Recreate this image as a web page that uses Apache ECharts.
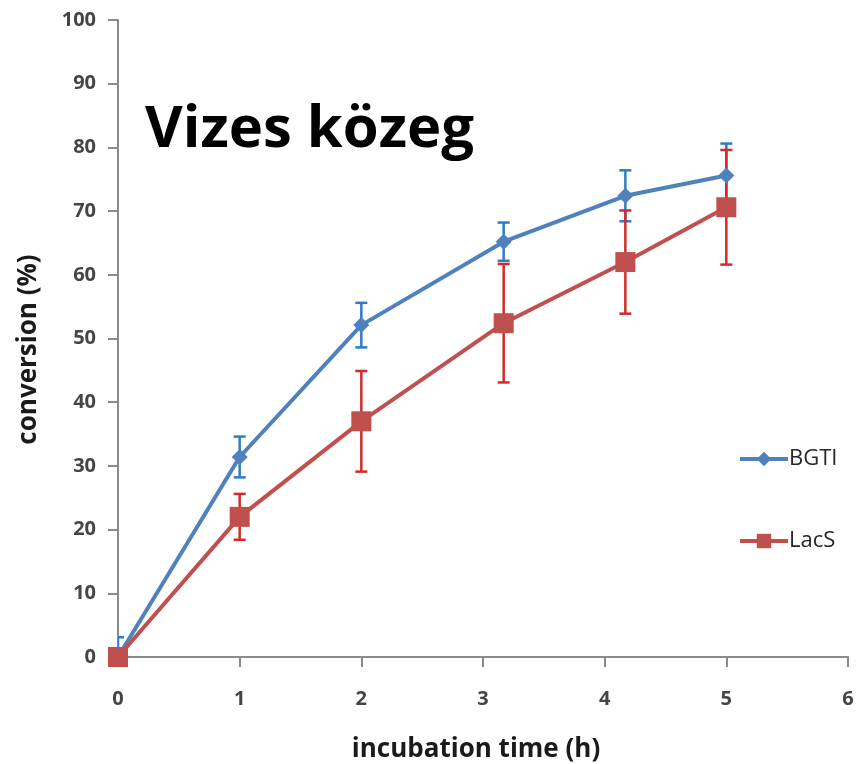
<!DOCTYPE html>
<html>
<head>
<meta charset="UTF-8">
<title>Vizes közeg</title>
<script src="https://cdn.jsdelivr.net/npm/echarts@6/dist/echarts.min.js"></script>
<style>
  html, body { margin: 0; padding: 0; background: #fff; }
  #chart { width: 856px; height: 764px; }
</style>
</head>
<body>
<div id="chart"></div>
<script>
// time points (h)
var timeBGTI = [0, 1, 2, 3.17, 4.17, 5];
var timeLacS = [0, 1, 2, 3.17, 4.17, 5];
// conversion (%)
var convBGTI = [0, 31.4, 52.1, 65.2, 72.4, 75.6];
var errBGTI  = [3.1, 3.2, 3.5, 3.0, 4.0, 5.0];
var convLacS = [0, 22.0, 37.0, 52.4, 62.0, 70.6];
var errLacS  = [0, 3.6, 7.9, 9.3, 8.1, 9.0];

var blue = '#4F81BD', blueErr = '#2C7CC8';
var red = '#C0504D', redErr = '#D42A2A';

function pairs(xs, ys) {
  return xs.map(function (x, i) { return [x, ys[i]]; });
}
function bars(xs, ys, es) {
  return xs.map(function (x, i) { return [x, ys[i] - es[i], ys[i] + es[i]]; });
}

function errRender(color) {
  return function (params, api) {
    var lo = api.coord([api.value(0), api.value(1)]);
    var hi = api.coord([api.value(0), api.value(2)]);
    var w = 6;
    var st = { stroke: color, lineWidth: 2.5 };
    return {
      type: 'group',
      children: [
        { type: 'line', shape: { x1: lo[0], y1: lo[1], x2: hi[0], y2: hi[1] }, style: st },
        { type: 'line', shape: { x1: lo[0] - w, y1: lo[1], x2: lo[0] + w, y2: lo[1] }, style: st },
        { type: 'line', shape: { x1: hi[0] - w, y1: hi[1], x2: hi[0] + w, y2: hi[1] }, style: st }
      ]
    };
  };
}

var chart = echarts.init(document.getElementById('chart'));
var labelFont = { fontFamily: 'Open Sans', fontSize: 20, fontWeight: 'bold', color: '#454545' };
var nameFont = { fontFamily: 'Open Sans', fontWeight: 'bold', fontSize: 26, color: '#1a1a1a' };

chart.setOption({
  animation: false,
  title: {
    text: 'Vizes közeg',
    left: 140, top: 96,
    textStyle: { fontFamily: 'Open Sans', fontWeight: 'bold', fontSize: 58, color: '#000' }
  },
  legend: {
    orient: 'vertical',
    left: 733, top: 443,
    itemGap: 60,
    itemWidth: 48, itemHeight: 18,
    data: ['BGTI', 'LacS'],
    lineStyle: { width: 4 },
    textStyle: { fontFamily: 'Open Sans', fontSize: 22, color: '#262626', padding: [0, 0, 0, -4] }
  },
  grid: { left: 118, top: 20, right: 8, bottom: 107, containLabel: false, outerBoundsMode: 'none' },
  xAxis: {
    type: 'value', min: 0, max: 6, interval: 1,
    name: 'incubation time (h)', nameLocation: 'middle', nameGap: 80,
    nameTextStyle: Object.assign({ padding: [0, 14, 0, 0] }, nameFont),
    axisLine: { lineStyle: { color: '#8a8a8a', width: 2 } },
    axisTick: { show: true, length: 10, lineStyle: { color: '#8a8a8a', width: 2 } },
    axisLabel: Object.assign({ margin: 32 }, labelFont),
    splitLine: { show: false }
  },
  yAxis: {
    type: 'value', min: 0, max: 100, interval: 10,
    name: 'conversion (%)', nameLocation: 'middle', nameGap: 76, nameRotate: 90,
    nameTextStyle: Object.assign({ padding: [0, 22, 0, 0] }, nameFont),
    axisLine: { show: true, lineStyle: { color: '#8a8a8a', width: 2 } },
    axisTick: { show: true, length: 10, lineStyle: { color: '#8a8a8a', width: 2 } },
    axisLabel: Object.assign({ margin: 22 }, labelFont),
    splitLine: { show: false }
  },
  series: [
    {
      name: 'BGTI', type: 'line',
      data: pairs(timeBGTI, convBGTI),
      symbol: 'diamond', symbolSize: 16,
      lineStyle: { color: blue, width: 4 },
      itemStyle: { color: blue },
      z: 3
    },
    {
      name: 'LacS', type: 'line',
      data: pairs(timeLacS, convLacS),
      symbol: 'rect', symbolSize: 20,
      lineStyle: { color: red, width: 4 },
      itemStyle: { color: red },
      z: 3
    },
    {
      name: 'BGTI err', type: 'custom',
      data: bars(timeBGTI, convBGTI, errBGTI),
      renderItem: errRender(blueErr),
      encode: { x: 0, y: [1, 2] },
      clip: true,
      z: 2
    },
    {
      name: 'LacS err', type: 'custom',
      data: bars(timeLacS, convLacS, errLacS),
      renderItem: errRender(redErr),
      encode: { x: 0, y: [1, 2] },
      clip: true,
      z: 2
    }
  ]
});
</script>
</body>
</html>
